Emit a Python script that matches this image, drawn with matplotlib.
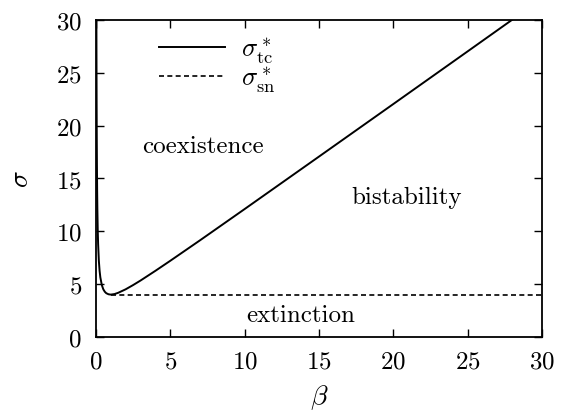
import numpy as np
import matplotlib
matplotlib.use("Agg")
import matplotlib.pyplot as plt

plt.rcParams['font.family'] = 'serif'
plt.rcParams['font.serif'] = ['cmr10']
plt.rcParams['mathtext.fontset'] = 'cm'
plt.rcParams['axes.formatter.use_mathtext'] = True

# sigma_tc curve
beta_tc = [0.035, 0.04, 0.05, 0.06, 0.07, 0.085, 0.1, 0.125, 0.15, 0.2, 0.25, 0.3, 0.4,
           0.5, 0.6, 0.7, 0.85, 1.0, 1.25, 1.5, 2.0, 2.5, 3.0, 4.0, 5.0, 7.0, 10.0,
           15.0, 20.0, 25.0, 28.0]
sigma_tc = [30.6, 27.0, 22.05, 18.8, 16.4, 13.85, 12.1, 10.1, 8.82, 7.2, 6.25, 5.63, 4.9,
            4.5, 4.27, 4.13, 4.03, 4.0, 4.05, 4.17, 4.5, 4.9, 5.33, 6.25, 7.2, 9.14, 12.1,
            17.07, 22.05, 27.04, 30.04]

# sigma_sn line
beta_sn = [1.0, 30.0]
sigma_sn = [4.0, 4.0]

ticks = [0, 5, 10, 15, 20, 25, 30]

fig = plt.figure(figsize=(5.64, 4.14), dpi=100)
ax = fig.add_axes([0.170, 0.184, 0.791, 0.765])

ax.plot(beta_tc, sigma_tc, color='black', lw=1.4, label=r'$\sigma^*_{\rm tc}$')
ax.plot(beta_sn, sigma_sn, color='black', lw=1.2, ls=(0, (3, 2)), label=r'$\sigma^*_{\rm sn}$')

ax.set_xlim(0, 30)
ax.set_ylim(0, 30)
ax.set_xticks(ticks)
ax.set_yticks(ticks)
ax.tick_params(direction='in', top=True, right=True, length=6, width=1, labelsize=18, pad=10)
for s in ax.spines.values():
    s.set_linewidth(1.3)

ax.set_xlabel(r'$\beta$', fontsize=20, labelpad=7)
ax.set_ylabel(r'$\sigma$', fontsize=20, labelpad=16)

ax.text(7.2, 18.1, 'coexistence', fontsize=18, ha='center', va='center')
ax.text(20.9, 13.25, 'bistability', fontsize=18, ha='center', va='center')
ax.text(13.8, 2.1, 'extinction', fontsize=18, ha='center', va='center')

ax.legend(loc='upper left', bbox_to_anchor=(0.1, 1.01), frameon=False, fontsize=19,
          handlelength=2.5, handletextpad=0.6, labelspacing=0.0, borderaxespad=0.3)

fig.savefig('out.png', dpi=100)
